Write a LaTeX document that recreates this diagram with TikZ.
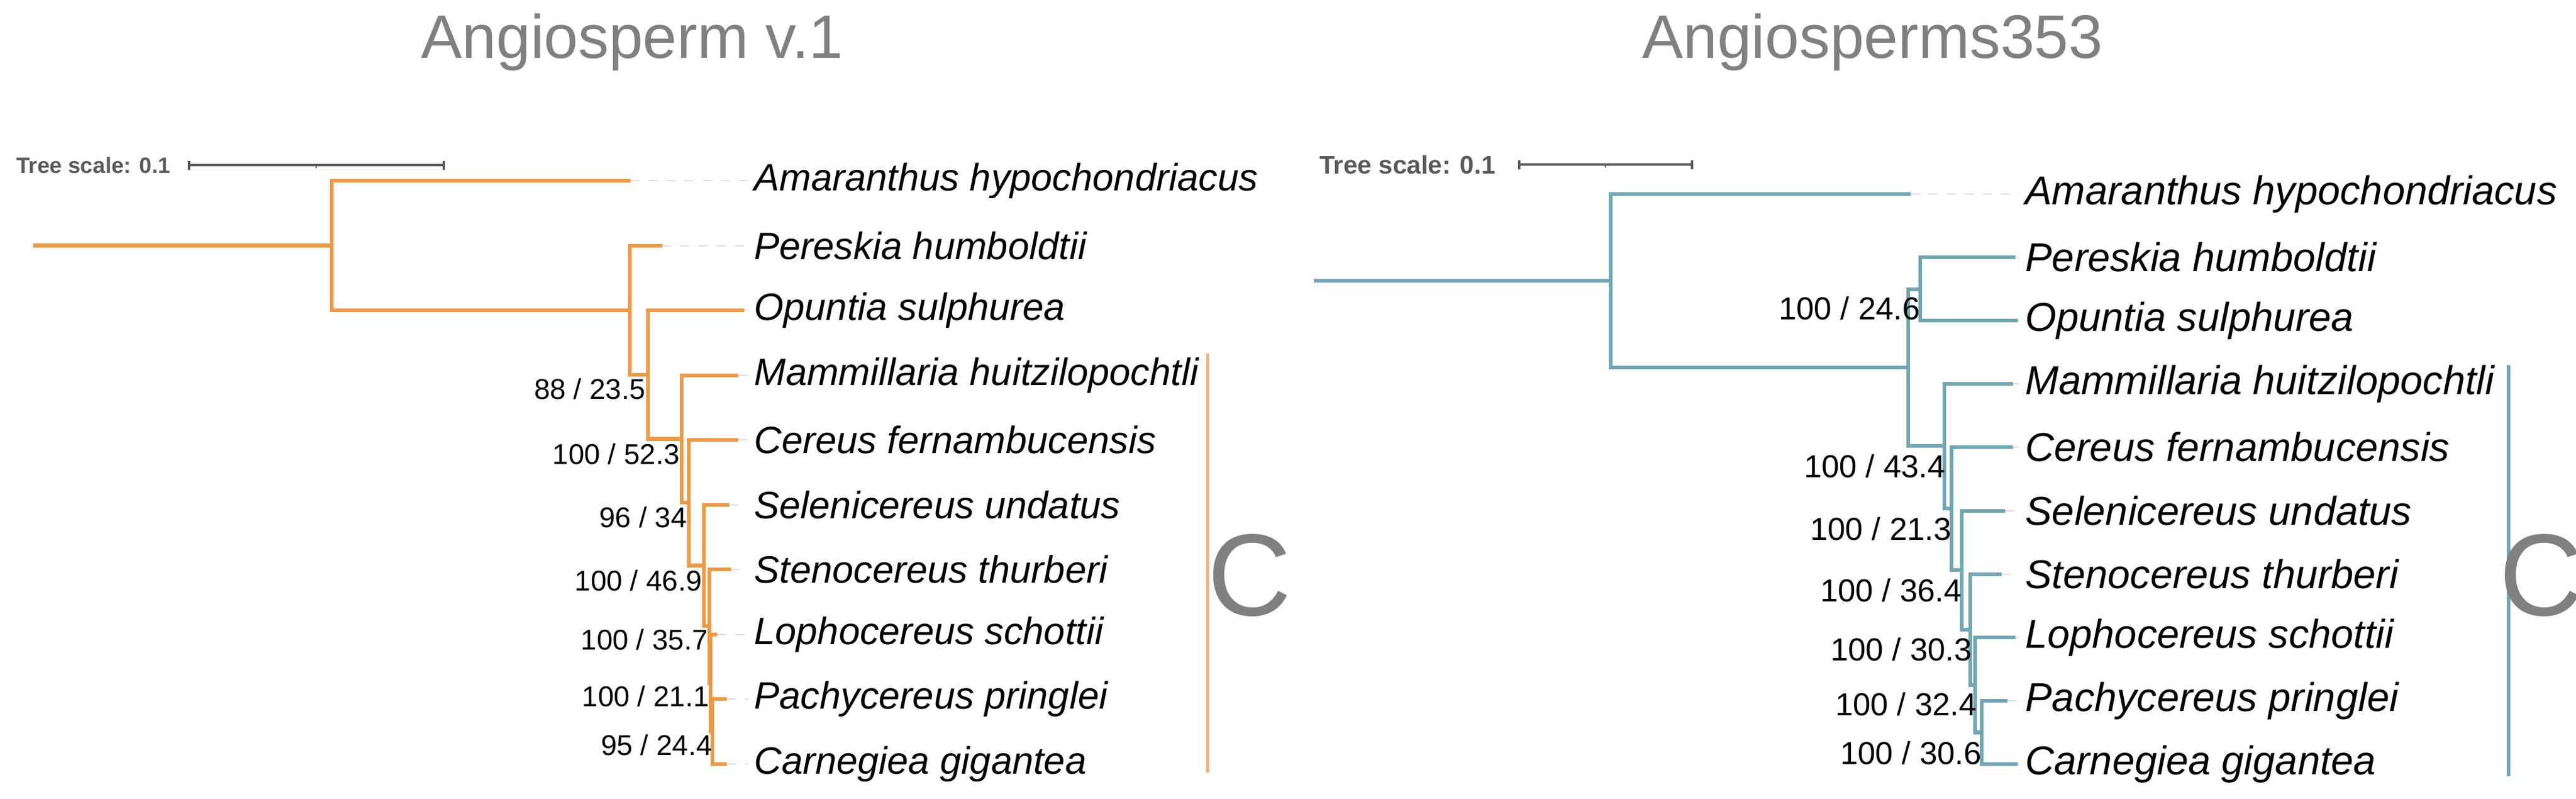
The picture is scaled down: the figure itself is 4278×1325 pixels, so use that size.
\documentclass[tikz,border=0pt]{standalone}
\usepackage{fontspec}
\setmainfont{Liberation Sans}
\definecolor{orng}{HTML}{EE9A45}
\definecolor{orngl}{HTML}{F2B27C}
\definecolor{tealc}{HTML}{6FA7B3}
\definecolor{ttl}{HTML}{808080}
\definecolor{scl}{HTML}{5A5A5A}
\definecolor{lead}{HTML}{DDDDDD}
\tikzset{
 br/.style={line width=0.13cm},
 lbr/.style={br,draw=orng},
 rbr/.style={br,draw=tealc},
 leader/.style={draw=lead,line width=0.05cm,dash pattern=on 0.3cm off 0.3cm},
 lname/.style={anchor=west,inner sep=0pt,font=\fontsize{36}{40}\selectfont\itshape},
 rname/.style={anchor=west,inner sep=0pt,font=\fontsize{38}{44}\selectfont\itshape},
 lsup/.style={anchor=east,inner sep=0pt,font=\fontsize{27}{30}\selectfont},
 rsup/.style={anchor=east,inner sep=0pt,font=\fontsize{30}{34}\selectfont},
 ttlnode/.style={text=ttl,font=\fontsize{58}{70}\selectfont},
 scltext/.style={anchor=west,inner sep=0pt,text=scl,font=\fontsize{21}{25}\selectfont\bfseries},
 sclbar/.style={draw=scl,line width=0.08cm},
 cbig/.style={text=ttl,font=\fontsize{110}{120}\selectfont,inner sep=0pt},
}
\begin{document}
\begin{tikzpicture}[x=0.02cm,y=-0.02cm]
\useasboundingbox (0,0) rectangle (4278,1325);
% titles
\node[ttlnode] (t1) at (1050,70) {Angiosperm v.1};
\node[ttlnode] (t2) at (3110,70) {Angiosperms353};
% ===== left tree
\node[scltext] (ls) at (27,274) {Tree scale: 0.1};
\coordinate (lsa) at (314,274); \coordinate (lsb) at (737,274); \coordinate (lsm) at (525,274);
\draw[sclbar] (lsa) -- (lsb);
\draw[sclbar] ([yshift=-0.15cm]lsa) -- ([yshift=0.15cm]lsa);
\draw[sclbar] ([yshift=-0.15cm]lsb) -- ([yshift=0.15cm]lsb);
\draw[sclbar,line width=0.03cm] (lsm) -- ([yshift=-0.1cm]lsm);
\coordinate (lr) at (55,407.5);
\coordinate (ln0) at (551,407.5);
\coordinate (ln1) at (1046,515);
\coordinate (ln2) at (1076,622);
\coordinate (ln3) at (1132,728.5);
\coordinate (ln4) at (1144,834);
\coordinate (ln5) at (1169,938.5);
\coordinate (ln6) at (1178,1039);
\coordinate (ln7) at (1180,1133.5);
\coordinate (ln8) at (1183,1214);
\coordinate (la) at (1047,300);
\coordinate (lb) at (1100,408);
\coordinate (lc) at (1236,515);
\coordinate (ld) at (1226,623);
\coordinate (le) at (1226,730);
\coordinate (lf) at (1211,838);
\coordinate (lg) at (1214,945);
\coordinate (lh) at (1191,1053);
\coordinate (li) at (1207,1160);
\coordinate (lj) at (1207,1268);
\draw[lbr] (lr) -- (ln0);
\draw[lbr] (ln0) |- (la); \draw[lbr] (ln0) |- (ln1);
\draw[lbr] (ln1) |- (lb); \draw[lbr] (ln1) |- (ln2);
\draw[lbr] (ln2) |- (lc); \draw[lbr] (ln2) |- (ln3);
\draw[lbr] (ln3) |- (ld); \draw[lbr] (ln3) |- (ln4);
\draw[lbr] (ln4) |- (le); \draw[lbr] (ln4) |- (ln5);
\draw[lbr] (ln5) |- (lf); \draw[lbr] (ln5) |- (ln6);
\draw[lbr] (ln6) |- (lg); \draw[lbr] (ln6) |- (ln7);
\draw[lbr] (ln7) |- (lh); \draw[lbr] (ln7) |- (ln8);
\draw[lbr] (ln8) |- (li); \draw[lbr] (ln8) |- (lj);
\foreach \n/\y/\t in {a/300/Amaranthus hypochondriacus,b/408/Pereskia humboldtii,c/515/Opuntia sulphurea,d/623/Mammillaria huitzilopochtli,e/730/Cereus fernambucensis,f/838/Selenicereus undatus,g/945/Stenocereus thurberi,h/1053/Lophocereus schottii,i/1160/Pachycereus pringlei,j/1268/Carnegiea gigantea}{
  \node[lname] (lt\n) at (1252,\y) {\t};
  \draw[leader] (l\n) -- ([xshift=-0.2cm]lt\n.west |- l\n);
}
\node[lsup] (ls1) at (1072,646) {88 / 23.5};
\node[lsup] (ls2) at (1129,754) {100 / 52.3};
\node[lsup] (ls3) at (1141,859) {96 / 34};
\node[lsup] (ls4) at (1166,964) {100 / 46.9};
\node[lsup] (ls5) at (1176,1062) {100 / 35.7};
\node[lsup] (ls6) at (1178,1156) {100 / 21.1};
\node[lsup] (ls7) at (1183,1237) {95 / 24.4};
\coordinate (lca) at (2005,587); \coordinate (lcb) at (2005,1282);
\draw[draw=orngl,line width=0.1cm] (lca) -- (lcb);
\node[cbig] (lC) at (2075,955) {C};
% ===== right tree
\node[scltext,font=\fontsize{24}{28}\selectfont\bfseries] (rs) at (2191,273) {Tree scale: 0.1};
\coordinate (rsa) at (2523,273); \coordinate (rsb) at (2810,273); \coordinate (rsm) at (2666,273);
\draw[sclbar] (rsa) -- (rsb);
\draw[sclbar] ([yshift=-0.15cm]rsa) -- ([yshift=0.15cm]rsa);
\draw[sclbar] ([yshift=-0.15cm]rsb) -- ([yshift=0.15cm]rsb);
\draw[sclbar,line width=0.03cm] (rsm) -- ([yshift=-0.1cm]rsm);
\coordinate (rr) at (2182,466);
\coordinate (rn0) at (2675,466);
\coordinate (rn1) at (3169,610);
\coordinate (rnp) at (3189,480);
\coordinate (rc1) at (3229,740);
\coordinate (rc2) at (3241,844);
\coordinate (rc3) at (3258,946);
\coordinate (rc4) at (3272,1045);
\coordinate (rc5) at (3280,1137);
\coordinate (rc6) at (3291,1215.5);
\coordinate (ra) at (3173,322);
\coordinate (rb) at (3347,427);
\coordinate (rcc) at (3351,532);
\coordinate (rd) at (3343,637);
\coordinate (re) at (3343,742);
\coordinate (rf) at (3330,848);
\coordinate (rg) at (3324,953);
\coordinate (rh) at (3347,1058);
\coordinate (ri) at (3334,1163);
\coordinate (rj) at (3351,1268);
\draw[rbr] (rr) -- (rn0);
\draw[rbr] (rn0) |- (ra); \draw[rbr] (rn0) |- (rn1);
\draw[rbr] (rn1) |- (rnp); \draw[rbr] (rn1) |- (rc1);
\draw[rbr] (rnp) |- (rb); \draw[rbr] (rnp) |- (rcc);
\draw[rbr] (rc1) |- (rd); \draw[rbr] (rc1) |- (rc2);
\draw[rbr] (rc2) |- (re); \draw[rbr] (rc2) |- (rc3);
\draw[rbr] (rc3) |- (rf); \draw[rbr] (rc3) |- (rc4);
\draw[rbr] (rc4) |- (rg); \draw[rbr] (rc4) |- (rc5);
\draw[rbr] (rc5) |- (rh); \draw[rbr] (rc5) |- (rc6);
\draw[rbr] (rc6) |- (ri); \draw[rbr] (rc6) |- (rj);
\foreach \n/\y/\t in {a/322/Amaranthus hypochondriacus,b/427/Pereskia humboldtii,cc/532/Opuntia sulphurea,d/637/Mammillaria huitzilopochtli,e/742/Cereus fernambucensis,f/848/Selenicereus undatus,g/953/Stenocereus thurberi,h/1058/Lophocereus schottii,i/1163/Pachycereus pringlei,j/1268/Carnegiea gigantea}{
  \node[rname] (rt\n) at (3363,\y) {\t};
  \draw[leader] (r\n) -- ([xshift=-0.2cm]rt\n.west |- r\n);
}
\node[rsup] (rs1) at (3189,512) {100 / 24.6};
\node[rsup] (rs2) at (3231,774) {100 / 43.4};
\node[rsup] (rs3) at (3241,878) {100 / 21.3};
\node[rsup] (rs4) at (3258,980) {100 / 36.4};
\node[rsup] (rs5) at (3275,1078) {100 / 30.3};
\node[rsup] (rs6) at (3283,1169) {100 / 32.4};
\node[rsup] (rs7) at (3291,1250) {100 / 30.6};
\coordinate (rca) at (4166,606); \coordinate (rcb) at (4166,1288);
\draw[draw=tealc,line width=0.12cm] (rca) -- (rcb);
\node[cbig] (rC) at (4220,955) {C};
\end{tikzpicture}
\end{document}
